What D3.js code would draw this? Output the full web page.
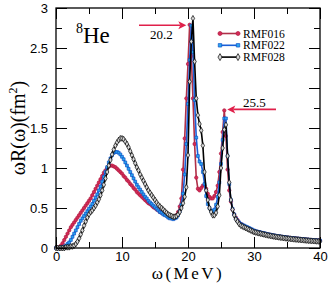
<!DOCTYPE html>
<html>
<head>
<meta charset="utf-8">
<script src="https://cdn.jsdelivr.net/npm/d3@7"></script>
<style>
  body { margin: 0; background: #fff; }
  svg { display: block; }
</style>
</head>
<body>
<div id="chart"></div>
<script>
// energy grid (MeV), 0.25 MeV steps
const omega = d3.range(0, 40.001, 0.25)

const rmf016 = [
  0.00, 0.00, 0.01, 0.03, 0.06, 0.10, 0.14, 0.18, 0.22, 0.26, 0.29, 0.32, 0.35, 0.38, 0.41, 0.44,
  0.47, 0.50, 0.53, 0.56, 0.59, 0.62, 0.66, 0.70, 0.74, 0.78, 0.82, 0.86, 0.90, 0.94, 0.97, 1.00,
  1.02, 1.03, 1.03, 1.02, 1.01, 0.99, 0.97, 0.95, 0.93, 0.90, 0.88, 0.85, 0.83, 0.80, 0.78, 0.75,
  0.73, 0.70, 0.68, 0.66, 0.64, 0.62, 0.60, 0.58, 0.56, 0.55, 0.53, 0.51, 0.50, 0.48, 0.47, 0.45,
  0.44, 0.43, 0.42, 0.41, 0.40, 0.39, 0.38, 0.38, 0.39, 0.41, 0.45, 0.52, 0.62, 0.98, 1.37, 1.87,
  2.30, 2.79, 2.40, 1.87, 1.30, 0.88, 0.74, 0.72, 0.75, 0.78, 0.78, 0.74, 0.68, 0.64, 0.62, 0.62,
  0.65, 0.70, 0.78, 0.95, 1.18, 1.45, 1.72, 1.40, 0.98, 0.72, 0.58, 0.48, 0.42, 0.38, 0.35, 0.32,
  0.30, 0.29, 0.27, 0.26, 0.25, 0.24, 0.23, 0.22, 0.21, 0.205, 0.20, 0.195, 0.19, 0.185, 0.18, 0.175,
  0.17, 0.166, 0.162, 0.158, 0.154, 0.15, 0.147, 0.144, 0.141, 0.138, 0.135, 0.132, 0.13, 0.127, 0.125, 0.122,
  0.12, 0.118, 0.116, 0.114, 0.112, 0.11, 0.108, 0.106, 0.104, 0.102, 0.10, 0.099, 0.097, 0.096, 0.094, 0.093,
  0.092
]

const rmf022 = [
  0.00, 0.00, 0.00, 0.01, 0.01, 0.02, 0.03, 0.05, 0.07, 0.10, 0.14, 0.18, 0.22, 0.26, 0.30, 0.34,
  0.37, 0.40, 0.43, 0.46, 0.49, 0.52, 0.55, 0.59, 0.63, 0.67, 0.72, 0.77, 0.83, 0.89, 0.95, 1.01,
  1.07, 1.12, 1.16, 1.19, 1.20, 1.20, 1.19, 1.17, 1.14, 1.11, 1.07, 1.03, 0.99, 0.95, 0.91, 0.87,
  0.83, 0.79, 0.76, 0.73, 0.70, 0.67, 0.64, 0.62, 0.59, 0.57, 0.55, 0.53, 0.51, 0.49, 0.47, 0.45,
  0.44, 0.42, 0.41, 0.40, 0.38, 0.37, 0.37, 0.36, 0.37, 0.38, 0.41, 0.46, 0.54, 0.68, 0.92, 1.30,
  1.80, 2.35, 2.78, 2.45, 1.85, 1.38, 1.15, 1.08, 1.05, 0.95, 0.80, 0.65, 0.55, 0.50, 0.47, 0.46,
  0.48, 0.54, 0.64, 0.82, 1.05, 1.35, 1.62, 1.62, 1.15, 0.80, 0.60, 0.49, 0.42, 0.37, 0.34, 0.32,
  0.30, 0.29, 0.28, 0.27, 0.26, 0.25, 0.24, 0.23, 0.22, 0.21, 0.205, 0.20, 0.195, 0.19, 0.185, 0.18,
  0.175, 0.17, 0.166, 0.162, 0.158, 0.154, 0.15, 0.147, 0.144, 0.141, 0.138, 0.135, 0.132, 0.129, 0.127, 0.124,
  0.122, 0.12, 0.118, 0.116, 0.114, 0.112, 0.11, 0.108, 0.106, 0.104, 0.102, 0.10, 0.099, 0.097, 0.096, 0.094,
  0.093
]

const rmf028 = [
  0.00, 0.00, 0.00, 0.00, 0.00, 0.00, 0.01, 0.01, 0.01, 0.02, 0.02, 0.03, 0.05, 0.08, 0.12, 0.17,
  0.22, 0.28, 0.33, 0.38, 0.42, 0.45, 0.47, 0.50, 0.53, 0.57, 0.61, 0.66, 0.72, 0.79, 0.87, 0.95,
  1.03, 1.10, 1.17, 1.23, 1.28, 1.32, 1.35, 1.37, 1.37, 1.36, 1.33, 1.30, 1.26, 1.21, 1.16, 1.11,
  1.06, 1.01, 0.97, 0.92, 0.88, 0.84, 0.80, 0.76, 0.72, 0.69, 0.66, 0.63, 0.60, 0.57, 0.54, 0.52,
  0.50, 0.48, 0.46, 0.44, 0.42, 0.41, 0.40, 0.39, 0.39, 0.40, 0.42, 0.45, 0.50, 0.56, 0.64, 0.76,
  1.16, 2.08, 2.58, 2.87, 2.33, 1.87, 1.66, 1.55, 1.47, 1.28, 0.95, 0.72, 0.60, 0.50, 0.45, 0.41,
  0.41, 0.44, 0.52, 0.66, 1.00, 1.25, 1.48, 1.54, 1.15, 0.82, 0.60, 0.48, 0.41, 0.36, 0.33, 0.30,
  0.28, 0.27, 0.26, 0.25, 0.24, 0.23, 0.22, 0.21, 0.20, 0.195, 0.19, 0.185, 0.18, 0.175, 0.17, 0.165,
  0.16, 0.156, 0.152, 0.148, 0.144, 0.14, 0.137, 0.134, 0.131, 0.128, 0.125, 0.122, 0.12, 0.117, 0.115, 0.112,
  0.11, 0.108, 0.106, 0.104, 0.102, 0.10, 0.098, 0.096, 0.094, 0.092, 0.09, 0.089, 0.087, 0.086, 0.084, 0.083,
  0.082
]

const seriesNames = ["RMF016", "RMF022", "RMF028"]
const xTicks = [0, 10, 20, 30, 40]
const xMinor = [5, 15, 25, 35]
const yTicks = [0, 0.5, 1, 1.5, 2, 2.5, 3]
const yMinor = [0.25, 0.75, 1.25, 1.75, 2.25, 2.75]
const peakLabels = [{ e: 20.2, v: 2.79, text: "20.2" }, { e: 25.5, v: 1.72, text: "25.5" }]

const W = 332, H = 293
const margin = { left: 56, right: 12, top: 8, bottom: 45 }

const x = d3.scaleLinear().domain([0, 40]).range([margin.left, W - margin.right])
const y = d3.scaleLinear().domain([0, 3]).range([H - margin.bottom, margin.top])

const svg = d3.select("#chart").append("svg").attr("width", W).attr("height", H)

// styles per series
const styles = [
  { line: "#b03048", fill: "#d42a58", stroke: "#b01c40", sym: d3.symbolCircle, size: 9 },
  { line: "#1a5fd8", fill: "#2aa8ee", stroke: "#1050c8", sym: d3.symbolSquare, size: 8 },
  { line: "#000000", fill: "#d8d8d8", stroke: "#000000", sym: d3.symbolDiamond, size: 10 }
]
const allData = [rmf016, rmf022, rmf028]

const plot = svg.append("g")
const line = d3.line().x((d, i) => x(omega[i])).y(d => y(d))

allData.forEach(function (vals, k) {
  let st = styles[k]
  plot.append("path")
    .attr("d", line(vals))
    .attr("fill", "none")
    .attr("stroke", st.line)
    .attr("stroke-width", 1.6)
  plot.selectAll(".m" + k)
    .data(vals).enter()
    .append("path")
    .attr("d", d3.symbol().type(st.sym).size(st.size))
    .attr("transform", (d, i) => "translate(" + x(omega[i]) + "," + y(d) + ")")
    .attr("fill", st.fill)
    .attr("stroke", st.stroke)
    .attr("stroke-width", 0.7)
})

// axes, ticks inward on all four sides
const tickFont = "'Liberation Sans', Arial, sans-serif"
function styleAxis(g) {
  g.select(".domain").remove()
  g.selectAll("line").attr("stroke", "#000").attr("stroke-width", 1)
  g.selectAll("text").attr("font-family", tickFont).attr("font-size", 13).attr("fill", "#000")
}
const y0 = H - margin.bottom, x1 = W - margin.right
svg.append("g").attr("transform", "translate(0," + y0 + ")")
  .call(d3.axisBottom(x).tickValues(xTicks).tickSize(-11).tickPadding(4).tickFormat(d3.format("d"))).call(styleAxis)
svg.append("g").attr("transform", "translate(0," + y0 + ")")
  .call(d3.axisBottom(x).tickValues(xMinor).tickSize(-6).tickFormat("")).call(styleAxis)
svg.append("g").attr("transform", "translate(0," + margin.top + ")")
  .call(d3.axisTop(x).tickValues(xTicks).tickSize(-11).tickFormat("")).call(styleAxis)
svg.append("g").attr("transform", "translate(0," + margin.top + ")")
  .call(d3.axisTop(x).tickValues(xMinor).tickSize(-6).tickFormat("")).call(styleAxis)
svg.append("g").attr("transform", "translate(" + margin.left + ",0)")
  .call(d3.axisLeft(y).tickValues(yTicks).tickSize(-11).tickPadding(8).tickFormat(d3.format("~g"))).call(styleAxis)
svg.append("g").attr("transform", "translate(" + margin.left + ",0)")
  .call(d3.axisLeft(y).tickValues(yMinor).tickSize(-6).tickFormat("")).call(styleAxis)
svg.append("g").attr("transform", "translate(" + x1 + ",0)")
  .call(d3.axisRight(y).tickValues(yTicks).tickSize(-11).tickFormat("")).call(styleAxis)
svg.append("g").attr("transform", "translate(" + x1 + ",0)")
  .call(d3.axisRight(y).tickValues(yMinor).tickSize(-6).tickFormat("")).call(styleAxis)

svg.append("rect")
  .attr("x", margin.left).attr("y", margin.top)
  .attr("width", x1 - margin.left).attr("height", y0 - margin.top)
  .attr("fill", "none").attr("stroke", "#000").attr("stroke-width", 1.3)

// axis titles
const serif = "'Liberation Serif', 'Times New Roman', serif"
svg.append("text")
  .attr("x", (margin.left + x1) / 2).attr("y", 279)
  .attr("text-anchor", "middle")
  .attr("font-family", serif).attr("font-size", 17).attr("letter-spacing", 2.5)
  .text("ω(MeV)")

let yl = svg.append("text")
  .attr("transform", "translate(25," + ((margin.top + y0) / 2) + ") rotate(-90)")
  .attr("text-anchor", "middle")
  .attr("font-family", serif).attr("font-size", 20)
yl.append("tspan").text("ωR(ω)(fm")
yl.append("tspan").attr("font-size", 12).attr("dy", -8).text("2")
yl.append("tspan").attr("dy", 8).text(")")

// nucleus label
let nl = svg.append("text").attr("x", 76).attr("y", 43)
  .attr("font-family", serif).attr("font-size", 23)
nl.append("tspan").attr("font-size", 14).attr("dy", -10).text("8")
nl.append("tspan").attr("dy", 10).text("He")

// legend
const legend = svg.append("g")
seriesNames.forEach(function (name, k) {
  let st = styles[k]
  let ly = 33.5 + k * 11.8
  legend.append("line")
    .attr("x1", 220).attr("x2", 238).attr("y1", ly).attr("y2", ly)
    .attr("stroke", st.line).attr("stroke-width", 1.6)
  ;[220, 238].forEach(function (lx) {
    legend.append("path")
      .attr("d", d3.symbol().type(st.sym).size(st.size + 4))
      .attr("transform", "translate(" + lx + "," + ly + ")")
      .attr("fill", st.fill).attr("stroke", st.stroke).attr("stroke-width", 0.7)
  })
  legend.append("text")
    .attr("x", 243).attr("y", ly + 4)
    .attr("font-family", serif).attr("font-size", 11.6)
    .text(name)
})

// peak arrows
const arrowColor = "#e0204a"
function arrow(xFrom, xTip, yy) {
  let dir = xTip > xFrom ? -1 : 1
  svg.append("line")
    .attr("x1", xFrom).attr("x2", xTip + dir * 6).attr("y1", yy).attr("y2", yy)
    .attr("stroke", arrowColor).attr("stroke-width", 1.6)
  svg.append("path")
    .attr("d", "M" + xTip + "," + yy + "L" + (xTip + dir * 8) + "," + (yy - 4) + "L" + (xTip + dir * 6) + "," + yy + "L" + (xTip + dir * 8) + "," + (yy + 4) + "Z")
    .attr("fill", arrowColor)
}
let p1 = peakLabels[0], p2 = peakLabels[1]
arrow(139, x(p1.e) - 3, y(p1.v) + 0.5)
svg.append("text").attr("x", 150).attr("y", 39)
  .attr("font-family", serif).attr("font-size", 13).text(p1.text)
arrow(276, x(p2.e) + 3, y(p2.v) - 1)
svg.append("text").attr("x", 243).attr("y", 107)
  .attr("font-family", serif).attr("font-size", 13).text(p2.text)
</script>
</body>
</html>
